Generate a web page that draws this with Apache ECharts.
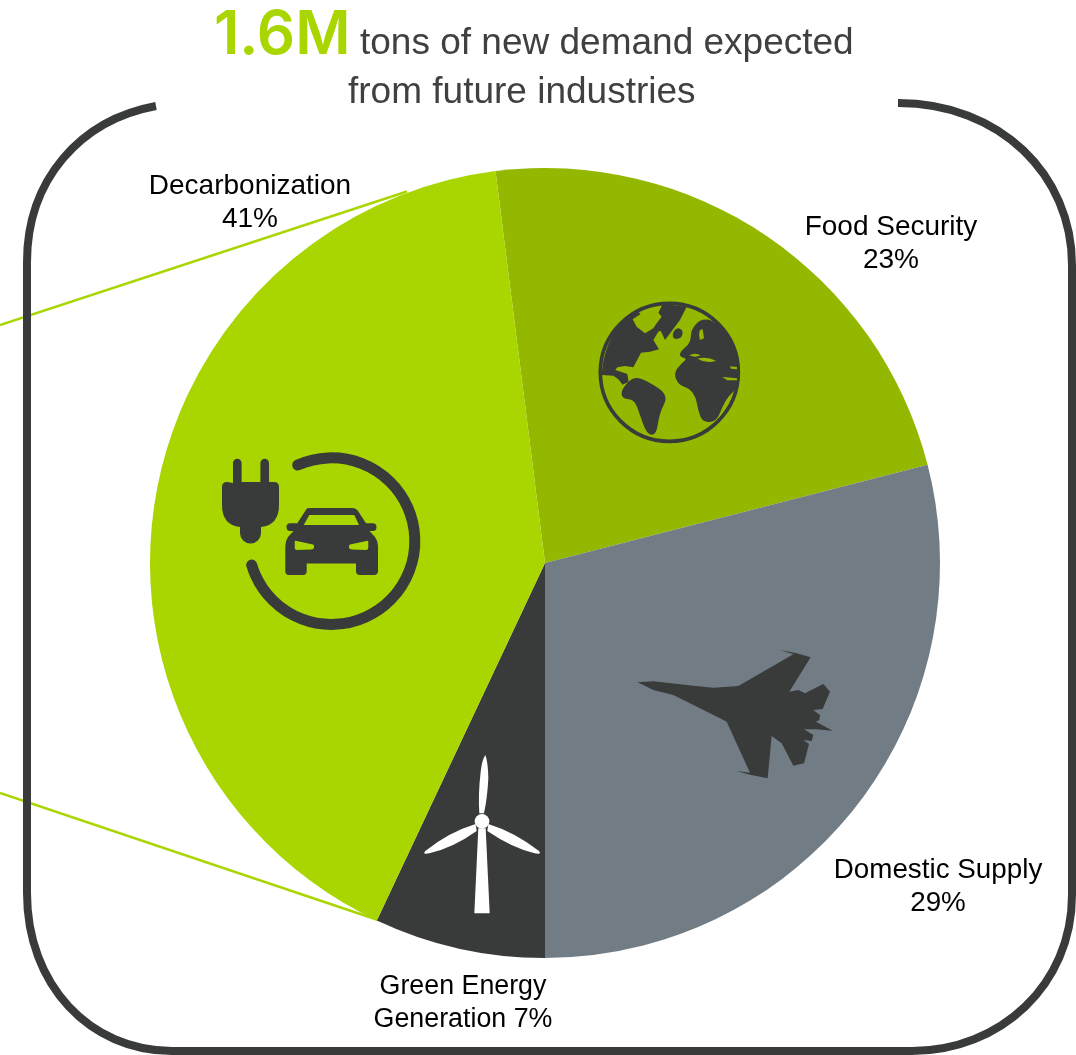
<!DOCTYPE html>
<html>
<head>
<meta charset="utf-8">
<style>html,body{margin:0;padding:0;background:#fff}#chart{width:1076px;height:1055px}</style>
<script src="https://cdn.jsdelivr.net/npm/echarts@6/dist/echarts.min.js"></script>
</head>
<body>
<div id="chart"></div>
<script>
// Share of new demand by future industry, clockwise from the top
const categories = ['Food Security', 'Domestic Supply', 'Green Energy\nGeneration', 'Decarbonization'];
const shares = [23, 29, 7, 41];

const headlineValue = '1.6M';
const headlineLines = ['tons of new demand expected', 'from future industries'];

const GREEN = '#a9d600', OLIVE = '#94b800', SLATE = '#717c84', INK = '#393b3b';
const sliceColors = [OLIVE, SLATE, INK, GREEN];
const labelAnchors = [[891, 244], [938, 887], [463, 1003], [250, 203]];
const labelSizes = [28, 27.8, 26.8, 28];

// SVG path strings become registered graphic shapes
let shapeCount = 0;
function pathShape(pathData) {
  const name = 'svgPath' + shapeCount++;
  echarts.graphic.registerShape(name, echarts.graphic.extendPath(pathData, {}));
  return name;
}
function shape(pathData, fill) {
  return { type: pathShape(pathData), z: 20, style: { fill } };
}
function strokeShape(pathData, z, style) {
  return { type: pathShape(pathData), z, style: Object.assign({ fill: 'none' }, style) };
}
// Closed outline rounded through the midpoints of its vertices
function blob(points, fill) {
  const mid = (a, b) => [(a[0] + b[0]) / 2, (a[1] + b[1]) / 2];
  const n = points.length;
  const start = mid(points[n - 1], points[0]);
  let d = 'M' + start[0] + ' ' + start[1];
  points.forEach((p, i) => {
    const m = mid(p, points[(i + 1) % n]);
    d += 'Q' + p[0] + ' ' + p[1] + ' ' + m[0] + ' ' + m[1];
  });
  return shape(d + 'Z', fill);
}
// Icons are authored at 3x and scaled down when placed
function icon(x, y, children) {
  return { type: 'group', x, y, scaleX: 1 / 3, scaleY: 1 / 3, z: 20, children };
}

const plugCar = {
  type: 'group', z: 20, children: [
    shape('M233 483V463A4.3 4.3 0 0 1 241.6 463V482H260.4V463A4.3 4.3 0 0 1 269 463V482H274Q279 482 279 487V505Q279 525 261 527V533A10.5 10.5 0 0 1 240 533V527Q222 525 222 505V487Q222 482 227 482Z', INK),
    strokeShape('M297.7 465A83.3 83.3 0 1 1 251.7 565', 20, { stroke: INK, lineWidth: 11, lineCap: 'round' }),
    shape('M307 508.3Q309 508 312 508H352Q356 508 358 511L366 523.3H373Q376.5 523.5 376.5 527Q376.5 531 373 531H369.5L375 537Q378 541 378 546V571Q378 575 374 575H360Q356 575 356 571V563.5H306.7V571Q306.7 575 303 575H289Q285.3 575 285.3 571V546Q285.3 541 288 537L293.5 531H290Q286.5 531 286.5 527Q286.5 523.5 290 523.3H297.3Z', INK),
    shape('M309.3 515H354.3L359 525H303.7Z', GREEN),
    shape('M295.5 540.7L313 544.5Q314.5 545 314 547.5Q313.8 549.5 311 549.5L297 550Q294.7 550 294.7 547.5V542Q294.7 540.5 295.5 540.7Z', GREEN),
    shape('M367.5 540.7L350 544.5Q348.5 545 349 547.5Q349.2 549.5 352 549.5L366 550Q368.3 550 368.3 547.5V542Q368.3 540.5 367.5 540.7Z', GREEN)
  ]
};

const globe = icon(590, 290, [
  { type: 'circle', z: 20, shape: { cx: 238, cy: 247, r: 207 }, style: { fill: 'none', stroke: INK, lineWidth: 11 } },
  shape('M36 255C38 170 85 85 140 62L152 72L128 88L140 110L165 130L190 115L200 100L215 80L205 68L218 42L290 50L270 90L225 150L212 122L205 125L190 150L207 178L180 185L153 188L130 232L105 228L82 232L76 240L112 252L116 275L98 284L85 268L70 257Z', INK),
  blob([[130, 258], [175, 274], [236, 315], [208, 370], [199, 436], [170, 432], [148, 370], [133, 328], [98, 327], [92, 302]], INK),
  blob([[262, 112], [280, 122], [274, 145], [250, 148], [247, 128]], INK),
  blob([[303, 122], [325, 93], [352, 86], [378, 98], [412, 128], [438, 170], [449, 225], [449, 265], [444, 292], [414, 320], [397, 350], [380, 394], [338, 398], [324, 360], [318, 322], [298, 294], [266, 286], [251, 250], [272, 222], [292, 206], [268, 200], [272, 183], [295, 165], [303, 145]], INK),
  shape('M322 206Q350 198 378 212Q350 222 322 206Z', OLIVE),
  shape('M298 196Q315 186 332 196Q315 204 298 196Z', OLIVE),
  shape('M420 229L441 231V238L423 236Z', OLIVE),
  shape('M397 261L441 265V271L412 271Z', OLIVE),
  shape('M330 120L338 118L342 145L330 150Q325 132 330 120Z', OLIVE)
]);

const jet = icon(630, 640, [
  shape('M22 127L70 124L190 137L250 143L325 138L490 43L450 30L500 40L542 52L478 155L505 150L525 160L580 132L600 155L578 207L550 210L570 225L568 240L558 245L608 272L560 268L522 268L550 285L545 303L520 300L537 312L522 370L490 377L455 310L425 288L413 415L360 404L320 393L360 398L290 245L270 235L130 165L70 150L40 135Z', INK)
]);

const turbine = icon(410, 745, [
  shape('M226 30Q234 50 235 100Q232 160 222 205H208Q204 150 212 80Q216 45 226 30Z', '#fff'),
  shape('M197 237Q115 262 46 318Q36 330 58 325Q130 308 200 258Z', '#fff'),
  shape('M235 237Q315 262 387 318Q396 330 374 325Q305 308 232 258Z', '#fff'),
  shape('M205 250H227L239 505H193Z', '#fff'),
  { type: 'circle', z: 20, shape: { cx: 216, cy: 229, r: 22 }, style: { fill: '#fff' } }
]);

const chart = echarts.init(document.getElementById('chart'));
chart.setOption({
  animation: false,
  backgroundColor: '#fff',
  textStyle: { fontFamily: '"Liberation Sans", Arial, sans-serif' },
  title: [
    { text: headlineValue, left: 209, top: 1,
      textStyle: { color: GREEN, fontFamily: 'Inter', fontSize: 60, fontWeight: 600 } },
    { text: headlineLines[0], left: 355, top: 20,
      textStyle: { color: '#404040', fontFamily: '"Liberation Sans"', fontSize: 37, fontWeight: 'normal' } },
    { text: headlineLines[1], left: 343, top: 69,
      textStyle: { color: '#404040', fontFamily: '"Liberation Sans"', fontSize: 37, fontWeight: 'normal' } }
  ],
  series: [{
    type: 'pie',
    center: [545, 563],
    radius: 395,
    startAngle: 97.2,
    clockwise: true,
    silent: true,
    z: 5,
    data: categories.map((name, i) => ({
      name,
      value: shares[i],
      itemStyle: { color: sliceColors[i] },
      label: { fontSize: labelSizes[i] }
    })),
    label: {
      show: true,
      position: 'outside',
      color: '#000',
      fontFamily: '"Liberation Sans"',
      lineHeight: 33,
      align: 'center',
      overflow: 'none',
      width: 400,
      formatter: p => p.name.includes('\n') ? p.name + ' ' + p.value + '%' : p.name + '\n' + p.value + '%'
    },
    labelLine: { show: false },
    labelLayout: p => ({
      x: labelAnchors[p.dataIndex][0],
      y: labelAnchors[p.dataIndex][1],
      align: 'center',
      verticalAlign: 'middle'
    })
  }],
  graphic: [
    // Callout lines run behind the frame and stop at the pie edge
    { type: 'line', z: 1, shape: { x1: 0, y1: 325, x2: 407, y2: 191.5 }, style: { stroke: GREEN, lineWidth: 2.4 } },
    { type: 'line', z: 1, shape: { x1: 0, y1: 793, x2: 378, y2: 920 }, style: { stroke: GREEN, lineWidth: 2.4 } },
    // Rounded frame, open at the top for the headline
    strokeShape('M156 106C80 120 27 180 27 262L27 893C27 985 90 1051 172 1051L912 1051C1000 1051 1072 985 1072 895L1072 265C1072 175 1000 103 898 103', 2, { stroke: INK, lineWidth: 8 }),
    plugCar, globe, jet, turbine
  ]
});
</script>
</body>
</html>
